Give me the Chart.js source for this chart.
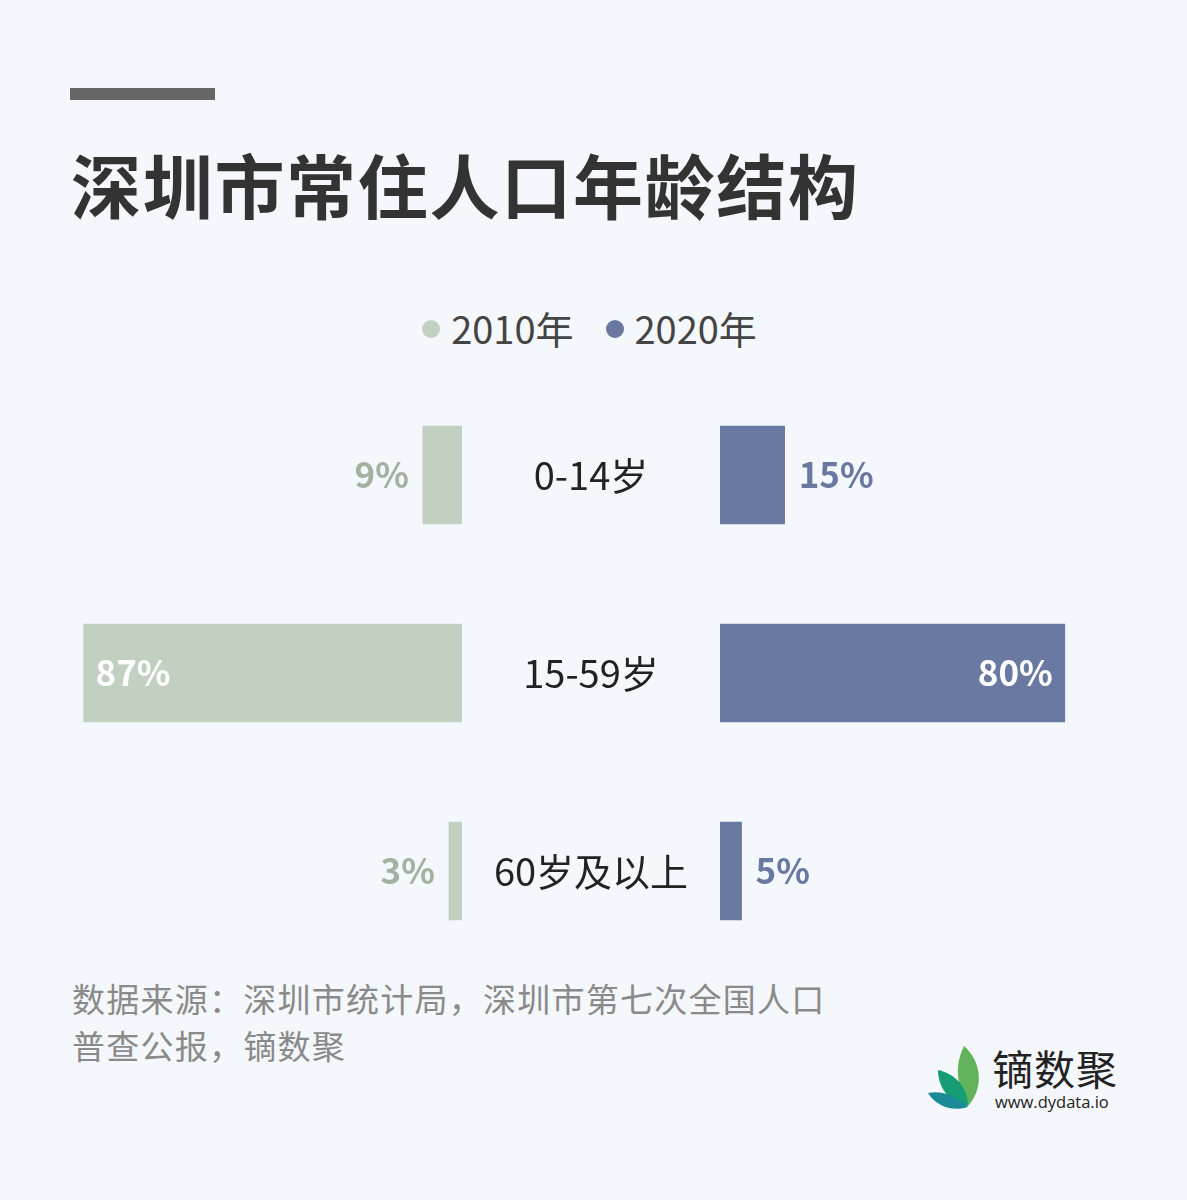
<!DOCTYPE html>
<html lang="zh">
<head>
<meta charset="utf-8">
<script src="https://cdn.jsdelivr.net/npm/chart.js@4"></script>
<style>
  html, body { margin: 0; padding: 0; }
  body { width: 1187px; height: 1200px; background: #f4f7fb; position: relative; overflow: hidden;
         font-family: "Noto Sans CJK SC", "Noto Sans", sans-serif; }
  .bar-deco { position: absolute; left: 70px; top: 88px; width: 145px; height: 12px; background: #666666; }
  .title { position: absolute; left: 71px; top: 149px; font-size: 70px; line-height: 70px; font-weight: 700;
           color: #333333; letter-spacing: 1.7px; white-space: nowrap; }
  .legend { position: absolute; left: -4px; width: 1187px; top: 305px; height: 44px; display: flex;
            justify-content: center; align-items: center; font-size: 38px; color: #444444; }
  .legend .item { display: flex; align-items: center; margin: 0 16px; }
  .legend .dot { width: 18px; height: 18px; border-radius: 50%; margin-right: 11px; margin-top: 3px; }
  canvas { position: absolute; }
  .source { position: absolute; left: 72px; top: 975px; font-size: 33px; line-height: 47px; color: #8a8a8a;
            letter-spacing: 1.25px; }
  .logo { position: absolute; left: 924px; top: 1040px; width: 200px; height: 75px; }
  .logo .name { position: absolute; left: 68px; top: 5px; font-size: 41px; line-height: 44px; color: #222; letter-spacing: 1px; }
  .logo .url { position: absolute; left: 71px; top: 52px; font-size: 16.5px; line-height: 20px; color: #222;
               font-family: "Open Sans", "DejaVu Sans", sans-serif; }
</style>
</head>
<body>
<div class="bar-deco"></div>
<div class="title">深圳市常住人口年龄结构</div>
<div class="legend" id="legend"></div>
<canvas id="left" width="435" height="594" style="left:27px; top:376px;"></canvas>
<canvas id="right" width="689" height="594" style="left:462px; top:376px;"></canvas>
<div class="source">数据来源：深圳市统计局，深圳市第七次全国人口<br>普查公报，镝数聚</div>
<div class="logo">
  <svg width="62" height="75" viewBox="0 0 62 75" style="position:absolute;left:0;top:0;">
    <path d="M40 6 C58 22 60 48 44 66 C36 52 28 30 40 6 Z" fill="#62b35b"/>
    <path d="M14 30 C32 34 44 48 44 66 C28 64 14 50 14 30 Z" fill="#179d74"/>
    <path d="M4 53 C18 50 32 56 44 67 C28 72 12 66 4 53 Z" fill="#1b8c97"/>
  </svg>
  <div class="name">镝数聚</div>
  <div class="url">www.dydata.io</div>
</div>
<script>
const categories = ["0-14岁", "15-59岁", "60岁及以上"];
const seriesNames = ["2010年", "2020年"];
const values2010 = [9, 87, 3];
const values2020 = [15, 80, 5];
const barColors = ["#c2d0c2", "#6a79a1"];
const outsideLabelColors = ["#a3b1a1", "#6a79a1"];

// HTML legend built from series names and colours
const legendEl = document.getElementById('legend');
seriesNames.forEach((name, i) => {
  const item = document.createElement('div');
  item.className = 'item';
  const dot = document.createElement('span');
  dot.className = 'dot';
  dot.style.background = barColors[i];
  const txt = document.createElement('span');
  txt.textContent = name;
  item.appendChild(dot); item.appendChild(txt);
  legendEl.appendChild(item);
});

const valueLabelPlugin = {
  id: 'valueLabels',
  afterDatasetsDraw(chart, args, opts) {
    const ctx = chart.ctx;
    const meta = chart.getDatasetMeta(0);
    const data = chart.data.datasets[0].data;
    ctx.save();
    ctx.font = '700 35px "Noto Sans CJK SC", "Noto Sans", sans-serif';
    ctx.textBaseline = 'middle';
    meta.data.forEach((bar, i) => {
      const v = data[i];
      const dir = bar.x >= bar.base ? 1 : -1;
      let x, align, color;
      if (v >= 50) {
        x = bar.x - dir * 12; align = dir > 0 ? 'right' : 'left'; color = '#ffffff';
      } else {
        x = bar.x + dir * 14; align = dir > 0 ? 'left' : 'right'; color = opts.outsideColor;
      }
      ctx.textAlign = align;
      ctx.fillStyle = color;
      ctx.fillText(v + '%', x, bar.y);
    });
    ctx.restore();
  }
};

const categoryLabelPlugin = {
  id: 'categoryLabels',
  afterDraw(chart, args, opts) {
    const ctx = chart.ctx;
    const yScale = chart.scales.y;
    const cx = chart.chartArea.left - opts.offset;
    ctx.save();
    ctx.font = '400 38px "Noto Sans CJK SC", "Noto Sans", sans-serif';
    ctx.fillStyle = '#222222';
    ctx.textAlign = 'center';
    ctx.textBaseline = 'middle';
    chart.data.labels.forEach((lab, i) => {
      ctx.fillText(lab, cx, yScale.getPixelForTick(i) + 1);
    });
    ctx.restore();
  }
};

function makeChart(id, values, idx, reverse, padLeft, extra) {
  return new Chart(document.getElementById(id), {
    type: 'bar',
    data: {
      labels: categories,
      datasets: [{
        label: seriesNames[idx],
        data: values,
        backgroundColor: barColors[idx],
        borderWidth: 0,
        barThickness: 98
      }]
    },
    options: {
      indexAxis: 'y',
      responsive: false,
      animation: false,
      layout: { padding: { left: padLeft, right: 0, top: 0, bottom: 0 } },
      scales: {
        x: { display: false, min: 0, max: 100, reverse: reverse },
        y: { display: false }
      },
      plugins: Object.assign({
        legend: { display: false },
        tooltip: { enabled: false },
        valueLabels: { outsideColor: outsideLabelColors[idx] }
      }, extra || {})
    },
    plugins: [valueLabelPlugin].concat(extra ? [categoryLabelPlugin] : [])
  });
}

makeChart('left', values2010, 0, true, 0, null);
makeChart('right', values2020, 1, false, 258, { categoryLabels: { offset: 129 } });
</script>
</body>
</html>
